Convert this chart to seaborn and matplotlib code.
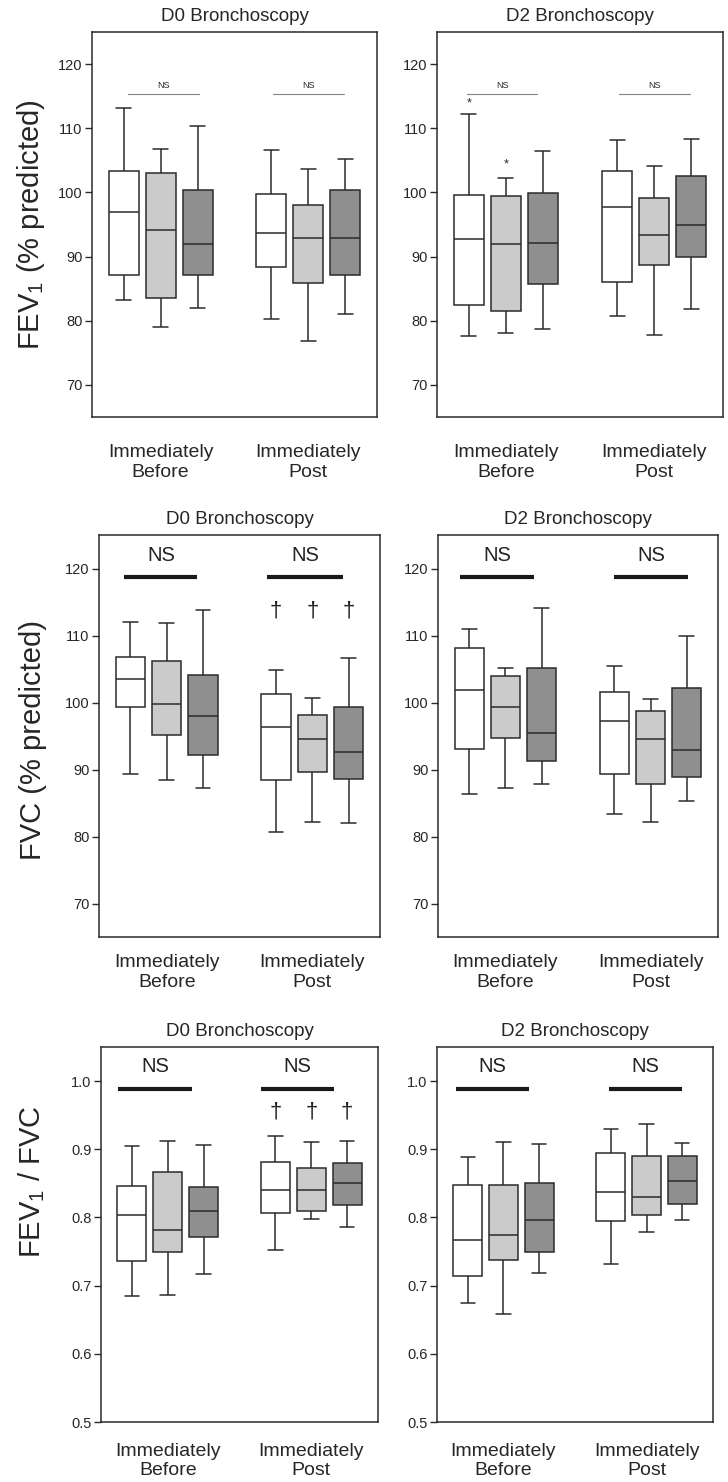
import matplotlib
matplotlib.use("Agg")
from matplotlib import pyplot as plt
import pandas as pd
import seaborn as sns

# x categories and hue levels
times = ["Immediately\nBefore", "Immediately\nPost"]
groups = ["Group 1", "Group 2", "Group 3"]
palette = ["#ffffff", "#cbcbcb", "#8f8f8f"]

# five-number summaries: [min, Q1, median, Q3, max]
# order: Before g1, g2, g3, Post g1, g2, g3
d0_fev1 = [[83.2, 87.1, 97.0, 103.3, 113.2], [79.0, 83.6, 94.1, 103.1, 106.7], [82.0, 87.2, 92.0, 100.3, 110.3],
           [80.2, 88.3, 93.6, 99.8, 106.6], [76.9, 85.9, 92.9, 98.0, 103.7], [81.1, 87.2, 92.9, 100.4, 105.2]]
d2_fev1 = [[77.6, 82.5, 92.7, 99.6, 112.2], [78.1, 81.5, 91.9, 99.4, 102.2], [78.7, 85.8, 92.1, 99.9, 106.4],
           [80.7, 86.1, 97.8, 103.3, 108.2], [77.8, 88.7, 93.4, 99.2, 104.1], [81.8, 90.0, 94.9, 102.6, 108.4]]
d0_fvc = [[89.3, 99.3, 103.5, 106.8, 112.0], [88.5, 95.2, 99.8, 106.2, 111.8], [87.2, 92.2, 98.0, 104.1, 113.8],
          [80.6, 88.4, 96.3, 101.3, 104.8], [82.1, 89.7, 94.5, 98.1, 100.6], [82.0, 88.6, 92.6, 99.4, 106.7]]
d2_fvc = [[86.4, 93.1, 101.8, 108.2, 110.9], [87.2, 94.7, 99.4, 103.9, 105.2], [87.9, 91.3, 95.5, 105.1, 114.1],
          [83.3, 89.4, 97.2, 101.6, 105.4], [82.1, 87.9, 94.6, 98.7, 100.5], [85.3, 88.9, 92.9, 102.2, 109.9]]
d0_ratio = [[0.685, 0.736, 0.804, 0.846, 0.905], [0.687, 0.749, 0.781, 0.866, 0.912], [0.717, 0.772, 0.810, 0.845, 0.907],
            [0.752, 0.806, 0.841, 0.881, 0.920], [0.798, 0.809, 0.841, 0.872, 0.910], [0.786, 0.819, 0.851, 0.880, 0.912]]
d2_ratio = [[0.675, 0.714, 0.767, 0.847, 0.889], [0.659, 0.738, 0.774, 0.848, 0.910], [0.718, 0.749, 0.797, 0.850, 0.908],
            [0.732, 0.795, 0.838, 0.894, 0.930], [0.779, 0.804, 0.830, 0.890, 0.937], [0.797, 0.820, 0.854, 0.890, 0.909]]

titles = ["D0 Bronchoscopy", "D2 Bronchoscopy"]
ylabels = ["FEV$_1$ (% predicted)", "FVC (% predicted)", "FEV$_1$ / FVC"]
yticks_pct = [70, 80, 90, 100, 110, 120]
yticks_ratio = [0.5, 0.6, 0.7, 0.8, 0.9, 1.0]

# NS bar extents (offset from group centre) and y level
ns_bars = [
    [[(-0.22, 0.26), (-0.24, 0.24)], [(-0.26, 0.21), (-0.24, 0.24)]],
    [[(-0.29, 0.21), (-0.31, 0.21)], [(-0.31, 0.20), (-0.25, 0.26)]],
    [[(-0.35, 0.17), (-0.35, 0.16)], [(-0.33, 0.18), (-0.26, 0.25)]],
]
ns_y = [115.3, 118.8, 0.988]
ns_text_y = [116.0, 120.5, 1.007]
dagger_y = [None, 113.6, 0.955]
star_marks = [(-0.25, 113.9), (0.0, 104.4)]   # top-right panel, Before group

panels = [[d0_fev1, d2_fev1], [d0_fvc, d2_fvc], [d0_ratio, d2_ratio]]

sns.set_theme(style="ticks")
plt.rcParams["font.family"] = ["Liberation Sans", "DejaVu Sans"]
plt.rcParams["mathtext.fontset"] = "custom"
plt.rcParams["mathtext.rm"] = "Liberation Sans"
plt.rcParams["mathtext.default"] = "regular"

fig = plt.figure(figsize=(7.28, 14.82), dpi=100)
W, H = 728, 1482
row_y = [(32, 417), (535, 937), (1047, 1422)]
col_x = [[(92, 377), (437, 723)], [(99, 380), (438, 718)], [(101, 378), (437, 713)]]
xtick_pad = [19.5, 12.5, 15]
ylabel_pos = [(-0.158, 0.5), (-0.185, 0.49), (-0.195, 0.64)]

edge = "#2b2b2b"

for r in range(3):
    for c in range(2):
        x0, x1 = col_x[r][c]
        y0, y1 = row_y[r]
        ax = fig.add_axes([x0 / W, 1 - y1 / H, (x1 - x0) / W, (y1 - y0) / H])

        rows = []
        for i, stats in enumerate(panels[r][c]):
            for v in stats:
                rows.append({"time": times[i // 3], "group": groups[i % 3], "value": v})
        df = pd.DataFrame(rows)

        sns.boxplot(data=df, x="time", y="value", hue="group", order=times, hue_order=groups,
                    palette=palette, saturation=1, whis=(0, 100), width=0.75, gap=0.19,
                    linecolor=edge, linewidth=1.1, legend=False, ax=ax)

        ax.set_xlim(-0.465, 1.465)
        if r < 2:
            ax.set_ylim(65, 125)
            ax.set_yticks(yticks_pct)
        else:
            ax.set_ylim(0.5, 1.05)
            ax.set_yticks(yticks_ratio)
            ax.set_yticklabels([f"{t:.1f}" for t in yticks_ratio])

        ax.set_xlabel("")
        ax.set_ylabel("")
        ax.set_title(titles[c], fontsize=13.5, pad=8)
        ax.tick_params(axis="x", length=0, pad=xtick_pad[r], labelsize=14)
        ax.tick_params(axis="y", length=5, width=1, color=edge, pad=2, labelsize=10.5)
        for sp in ax.spines.values():
            sp.set_visible(True)
            sp.set_color(edge)
            sp.set_linewidth(1.1)

        # significance annotations
        for g in range(2):
            a, b = ns_bars[r][c][g]
            if r == 0:
                ax.plot([g + a, g + b], [ns_y[r]] * 2, color="#808080", lw=0.8)
                ax.text(g + (a + b) / 2, ns_text_y[r], "NS", ha="center", va="bottom", fontsize=6.5)
            else:
                ax.plot([g + a, g + b], [ns_y[r]] * 2, color="#1a1a1a", lw=3, solid_capstyle="butt")
                ax.text(g + (a + b) / 2, ns_text_y[r], "NS", ha="center", va="bottom", fontsize=14.5,
                        color="#222222")
        if c == 0 and dagger_y[r] is not None:
            for off in (-0.25, 0.0, 0.25):
                ax.text(1 + off, dagger_y[r], "\u2020", ha="center", va="center", fontsize=16,
                        color="#222222")
        if r == 0 and c == 1:
            for off, yv in star_marks:
                ax.text(off, yv, "*", ha="center", va="center", fontsize=9)

        if c == 0:
            ax.set_ylabel(ylabels[r], fontsize=21)
            ax.yaxis.set_label_coords(*ylabel_pos[r])

fig.savefig("out.png", dpi=100)
